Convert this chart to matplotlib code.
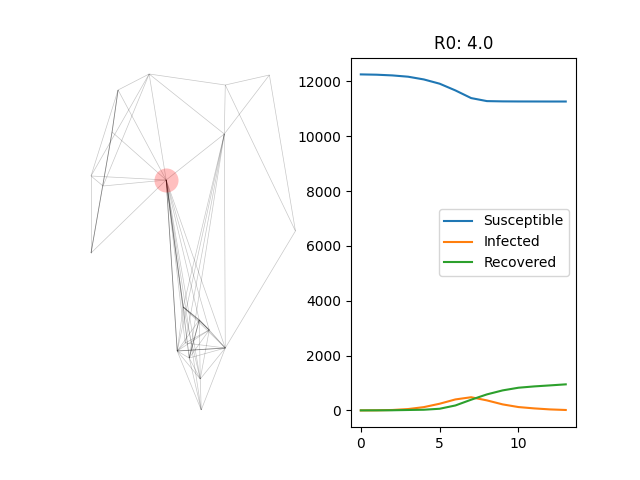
import numpy as np
import matplotlib
matplotlib.use("Agg")
import matplotlib.pyplot as plt
from matplotlib.collections import LineCollection

# SIR model output
days = list(range(14))
susceptible = [12254, 12243, 12217, 12170, 12070, 11915, 11670, 11390, 11280, 11270, 11267, 11266, 11265, 11265]
infected = [0, 3, 15, 49, 120, 243, 400, 480, 365, 219, 122, 73, 36, 15]
recovered = [0, 2, 5, 15, 24, 60, 180, 390, 584, 730, 827, 875, 912, 950]
r0 = 4.0

# contact network (layout positions)
nodes = {
    "A": (149, 406), "B": (118, 390), "C": (225, 395), "D": (269, 405),
    "E": (224, 346), "F": (166, 300), "G": (91, 304), "H": (103, 294),
    "I": (295, 249), "J": (91, 227), "X": (112, 348),
    "K": (183, 173), "L": (199, 160), "M": (209, 150), "N": (177, 129),
    "O": (225, 132), "P": (189, 122), "Q": (200, 101), "R": (201, 70),
    "S": (185, 137),
}
edges = [
    ("A", "B"), ("A", "C"), ("A", "E"), ("A", "F"), ("A", "G"), ("A", "H"),
    ("C", "D"), ("C", "E"), ("C", "I"), ("D", "E"), ("D", "I"), ("E", "F"),
    ("B", "F"), ("B", "X"), ("X", "J"), ("X", "F"), ("B", "G"),
    ("G", "H"), ("G", "F"), ("H", "F"), ("G", "J"), ("J", "F"),
    ("E", "O"), ("E", "N"), ("E", "P"), ("E", "K"), ("E", "S"), ("I", "O"),
    ("F", "K"), ("F", "N"), ("F", "P"), ("F", "L"), ("F", "M"), ("F", "Q"),
    ("F", "R"), ("F", "O"), ("F", "S"),
    ("K", "L"), ("K", "M"), ("K", "N"), ("K", "P"), ("K", "Q"), ("K", "O"),
    ("L", "M"), ("L", "N"), ("L", "O"), ("L", "P"), ("L", "Q"), ("M", "N"),
    ("M", "O"), ("M", "P"), ("M", "Q"), ("N", "O"), ("N", "P"), ("N", "Q"),
    ("N", "R"), ("O", "P"), ("O", "Q"), ("O", "R"), ("P", "Q"), ("Q", "R"),
    ("P", "R"), ("S", "O"), ("S", "N"), ("S", "M"),
]
heavy_edges = [("B", "X"), ("X", "J"), ("K", "L"), ("L", "M"), ("F", "N"),
               ("F", "K"), ("N", "O"), ("L", "P")]
patient_zero = "F"

fig, (ax_net, ax_sir) = plt.subplots(1, 2, figsize=(6.4, 4.8), dpi=100)

# network
segs = [[nodes[a], nodes[b]] for a, b in edges]
ax_net.add_collection(LineCollection(segs, colors="black", linewidths=0.5, alpha=0.22))
heavy = [[nodes[a], nodes[b]] for a, b in heavy_edges]
ax_net.add_collection(LineCollection(heavy, colors="black", linewidths=0.6, alpha=0.35))
px, py = nodes[patient_zero]
ax_net.scatter([px], [py], s=300, color="red", alpha=0.25, zorder=3, linewidths=0)
ax_net.set_xlim(80, 305)
ax_net.set_ylim(52.8, 422.4)
ax_net.axis("off")

# SIR curves
ax_sir.plot(days, susceptible, label="Susceptible")
ax_sir.plot(days, infected, label="Infected")
ax_sir.plot(days, recovered, label="Recovered")
ax_sir.set_title("R0: " + str(r0))
ax_sir.legend(loc="center right")

plt.savefig("out.png")
